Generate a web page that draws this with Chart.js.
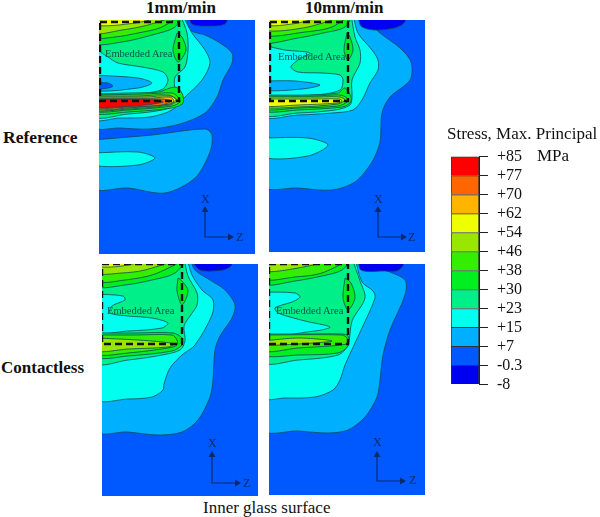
<!DOCTYPE html>
<html>
<head>
<meta charset="utf-8">
<title>Stress, Max. Principal</title>
<script src="https://cdn.jsdelivr.net/npm/chart.js@4/dist/chart.umd.min.js"></script>
<style>
  html, body { margin: 0; padding: 0; background: #fff; }
  #page { position: relative; width: 600px; height: 517px; overflow: hidden; font-family: "Liberation Serif", serif; color: #111; }
  canvas { position: absolute; display: block; }
  .t { position: absolute; white-space: nowrap; line-height: 1; }
  .b { font-weight: bold; font-size: 17px; }
  .n { font-size: 17px; }
  .e { font-size: 10.5px; color: #07564f; }
  .a { font-size: 12px; color: #0b2a68; }
</style>
</head>
<body>
<div id="page">
  <canvas id="refSlow" style="left:99px;top:20px"></canvas>
  <canvas id="refFast" style="left:269px;top:20px"></canvas>
  <canvas id="conSlow" style="left:102px;top:264px"></canvas>
  <canvas id="conFast" style="left:269px;top:264px"></canvas>
  <canvas id="colorBar" style="left:445px;top:138px"></canvas>

  <div class="t b" style="left:146px;top:-1px">1mm/min</div>
  <div class="t b" style="left:305px;top:-1px">10mm/min</div>
  <div class="t b" style="left:3px;top:129px;font-size:17.5px">Reference</div>
  <div class="t b" style="left:1px;top:359px">Contactless</div>
  <div class="t n" style="left:203px;top:499px">Inner glass surface</div>
  <div class="t n" style="left:447px;top:125px">Stress, Max. Principal</div>
  <div class="t n" style="left:537px;top:147px">MPa</div>

  <div class="t e" style="left:105px;top:49px">Embedded Area</div>
  <div class="t e" style="left:278px;top:52px">Embedded Area</div>
  <div class="t e" style="left:107px;top:306px">Embedded Area</div>
  <div class="t e" style="left:276px;top:306px">Embedded Area</div>

  <div class="t a" style="left:201px;top:193px">X</div>
  <div class="t a" style="left:236px;top:231px">Z</div>
  <div class="t a" style="left:374px;top:193px">X</div>
  <div class="t a" style="left:408px;top:231px">Z</div>
  <div class="t a" style="left:208px;top:437px">X</div>
  <div class="t a" style="left:243px;top:477px">Z</div>
  <div class="t a" style="left:373px;top:436px">X</div>
  <div class="t a" style="left:409px;top:474px">Z</div>
</div>

<script>
// colour bar, bottom band first
var bandEdges = [-8, -0.3, 7, 15, 23, 30, 38, 46, 54, 62, 70, 77, 85];
var bandColors = ['#0000f0', '#0058ff', '#00b0ff', '#00ffee', '#00ef88', '#00ee22', '#33ee00', '#99e600', '#eeff00', '#ffb400', '#ff6600', '#ff0000'];
var tickLabels = ['-8', '-0.3', '+7', '+15', '+23', '+30', '+38', '+46', '+54', '+62', '+70', '+77', '+85'];

// contour regions: [lower stress level, [z, depth] outline], painted in order
var refSlow = [
  [-0.3, [[0, 0], [160, 0], [160, 240], [0, 240]]],
  [7, [[87, 0], [91, 10], [106, 15], [121, 23], [133, 33], [133, 43], [124, 60], [118, 77], [106, 93], [81, 104], [51, 109], [21, 108], [0, 106], [0, 0]]],
  [7, [[0, 120], [53, 115], [106, 109], [113, 115], [111, 132], [96, 158], [66, 173], [29, 168], [0, 168]]],
  [15, [[0, 133], [39, 132], [56, 138], [39, 145], [0, 145]]],
  [15, [[83, 0], [93, 13], [106, 30], [111, 43], [103, 60], [86, 77], [73, 90], [51, 97], [21, 98], [0, 98], [0, 0]]],
  [23, [[81, 0], [88, 13], [89, 30], [86, 47], [76, 57], [76, 70], [79, 83], [63, 90], [29, 94], [0, 95], [0, 0]]],
  [30, [[0, 0], [82, 0], [76, 7], [53, 15], [23, 22], [0, 23]]],
  [38, [[0, 0], [79, 0], [63, 7], [39, 13], [16, 17], [0, 17]]],
  [46, [[0, 0], [78, 0], [49, 5], [23, 10], [0, 13]]],
  [54, [[0, 0], [69, 0], [36, 3], [0, 5]]],
  [30, [[78, 13], [74, 30], [79, 42], [87, 30], [83, 17]]],
  [15, [[0, 27], [9, 37], [19, 43], [43, 47], [64, 52], [69, 60], [64, 69], [46, 73], [0, 74]]],
  [7, [[0, 55], [39, 58], [53, 63], [39, 68], [0, 70]]],
  [-0.3, [[0, 63], [9, 63], [14, 66], [9, 68], [0, 69]]],
  [30, [[0, 74], [29, 73], [59, 72], [76, 67], [83, 73], [84, 83], [73, 88], [29, 92], [0, 93]]],
  [38, [[0, 75], [46, 74], [73, 73], [79, 77], [81, 82], [73, 86], [29, 90], [0, 91]]],
  [46, [[0, 76], [39, 76], [69, 75], [78, 80], [71, 85], [29, 89], [0, 90]]],
  [54, [[0, 77], [46, 77], [71, 76], [77, 80], [71, 84], [29, 88], [0, 90]]],
  [62, [[0, 78], [53, 78], [71, 77], [75, 81], [70, 84], [39, 87], [0, 89]]],
  [70, [[0, 79], [63, 79], [72, 81], [63, 85], [29, 87], [0, 88]]],
  [77, [[0, 79], [59, 80], [64, 82], [46, 85], [0, 87]]],
  [-8, [[89, 0], [93, 4], [106, 6], [126, 4], [128, 0]]]
];

var refFast = [
  [-0.3, [[0, 0], [160, 0], [160, 240], [0, 240]]],
  [7, [[91, 0], [111, 13], [131, 28], [142, 42], [141, 60], [121, 77], [113, 93], [111, 122], [103, 142], [86, 162], [63, 170], [29, 168], [0, 165], [0, 0]]],
  [15, [[0, 118], [39, 118], [59, 125], [39, 136], [0, 137]]],
  [15, [[84, 0], [89, 13], [103, 30], [109, 40], [109, 50], [101, 63], [93, 80], [84, 90], [63, 93], [29, 95], [0, 95], [0, 0]]],
  [23, [[82, 0], [86, 17], [91, 30], [91, 43], [83, 60], [83, 77], [81, 85], [66, 90], [29, 93], [0, 93], [0, 0]]],
  [30, [[0, 0], [81, 0], [76, 7], [54, 13], [29, 18], [0, 22]]],
  [38, [[0, 0], [79, 0], [63, 7], [36, 12], [0, 15]]],
  [46, [[0, 0], [74, 0], [39, 7], [0, 10]]],
  [54, [[0, 0], [56, 0], [29, 3], [0, 5]]],
  [30, [[78, 13], [75, 30], [79, 40], [84, 30], [81, 17]]],
  [15, [[0, 25], [16, 30], [41, 33], [29, 40], [22, 47], [29, 52], [53, 53], [71, 55], [74, 60], [71, 70], [46, 75], [0, 75]]],
  [7, [[0, 61], [26, 61], [51, 65], [33, 69], [0, 70]]],
  [30, [[0, 75], [36, 75], [69, 73], [76, 68], [82, 77], [81, 83], [73, 87], [29, 90], [0, 91]]],
  [38, [[0, 76], [46, 76], [71, 75], [78, 78], [78, 82], [69, 86], [29, 88], [0, 89]]],
  [46, [[0, 77], [49, 77], [71, 77], [76, 80], [69, 84], [29, 87], [0, 87]]],
  [54, [[0, 79], [46, 79], [70, 79], [73, 81], [68, 83], [29, 85], [0, 86]]],
  [-8, [[89, 0], [92, 6], [105, 10], [125, 8], [135, 3], [137, 0]]]
];

var conSlow = [
  [-0.3, [[0, 0], [160, 0], [160, 240], [0, 240]]],
  [7, [[88, 0], [93, 6], [108, 16], [123, 26], [133, 41], [130, 54], [118, 72], [113, 86], [111, 116], [108, 133], [96, 156], [80, 168], [56, 171], [26, 168], [0, 166], [0, 0]]],
  [15, [[85, 0], [90, 11], [100, 26], [111, 36], [110, 51], [93, 81], [80, 91], [68, 104], [62, 120], [61, 126], [50, 133], [26, 135], [0, 134], [0, 0]]],
  [23, [[82, 0], [86, 12], [95, 29], [95, 41], [88, 52], [82, 62], [83, 77], [78, 86], [60, 91], [26, 96], [0, 98], [0, 0]]],
  [30, [[0, 0], [83, 0], [73, 9], [50, 16], [23, 21], [0, 22]]],
  [38, [[0, 0], [81, 0], [53, 10], [23, 16], [0, 17]]],
  [46, [[0, 0], [76, 0], [43, 6], [20, 9], [0, 9]]],
  [54, [[0, 0], [50, 0], [20, 2], [0, 2]]],
  [30, [[76, 14], [75, 27], [80, 41], [86, 27], [80, 17]]],
  [15, [[0, 30], [21, 32], [23, 36], [10, 42], [8, 49], [26, 52], [50, 54], [66, 59], [60, 64], [26, 67], [0, 67]]],
  [30, [[0, 69], [33, 69], [71, 69], [80, 74], [80, 81], [70, 87], [26, 92], [0, 93]]],
  [38, [[0, 71], [33, 71], [70, 71], [75, 76], [75, 81], [66, 84], [26, 89], [0, 90]]],
  [46, [[0, 74], [36, 76], [60, 78], [72, 80], [66, 83], [26, 85], [0, 87]]],
  [-8, [[88, 0], [98, 6], [121, 6], [129, 2], [130, 0]]]
];

var conFast = [
  [-0.3, [[0, 0], [160, 0], [160, 240], [0, 240]]],
  [7, [[91, 0], [116, 6], [136, 16], [136, 31], [121, 66], [114, 91], [111, 116], [108, 133], [96, 153], [79, 166], [59, 169], [29, 167], [0, 165], [0, 0]]],
  [15, [[86, 0], [93, 18], [104, 27], [106, 34], [93, 64], [76, 101], [71, 116], [64, 126], [46, 133], [16, 134], [0, 133], [0, 0]]],
  [23, [[83, 0], [91, 17], [96, 34], [83, 57], [79, 81], [69, 91], [29, 96], [0, 97], [0, 0]]],
  [30, [[0, 0], [81, 0], [73, 6], [53, 12], [26, 17], [0, 20]]],
  [38, [[0, 0], [79, 0], [53, 9], [26, 13], [0, 15]]],
  [46, [[0, 0], [69, 0], [29, 4], [0, 7]]],
  [30, [[76, 14], [74, 34], [79, 46], [86, 34], [82, 19]]],
  [15, [[0, 28], [26, 29], [31, 33], [23, 38], [13, 41], [6, 44], [9, 49], [36, 57], [61, 63], [46, 67], [0, 69]]],
  [30, [[0, 70], [36, 70], [73, 70], [79, 72], [79, 82], [69, 89], [29, 91], [0, 91]]],
  [38, [[0, 71], [73, 71], [78, 74], [78, 80], [29, 84], [0, 87]]],
  [46, [[0, 77], [29, 74], [63, 77], [29, 80], [0, 81]]],
  [-8, [[89, 0], [92, 6], [115, 7], [130, 6], [136, 0]]]
];

// embedded area corners [left, top, right, bottom]
var refSlowBox = [1, 2, 80, 81];
var refFastBox = [1, 2, 79, 81];
var conSlowBox = [0, 0, 80, 80];
var conFastBox = [0, 0, 79, 80];

// X-Z triad [origin z, origin depth, x head depth, z head]
var refSlowAxes = [106, 217, 190, 131];
var refFastAxes = [109, 217, 190, 134];
var conSlowAxes = [110, 219, 191, 135];
var conFastAxes = [108, 217, 191, 133];

function bandColor(level) {
  return bandColors[bandEdges.indexOf(level)];
}

// points on the panel edge go a little outside so the smoothing stays off the clip line
function outline(pts) {
  var out = pts.map(function (p) {
    return { x: p[0] === 0 ? -6 : p[0], y: p[1] === 0 ? -6 : p[1] };
  });
  out.push(out[0]);
  return out;
}

function drawPanel(id, height, contours, box, axes) {
  var sets = contours.map(function (c, i) {
    return {
      data: outline(c[1]),
      showLine: true,
      fill: 'shape',
      backgroundColor: bandColor(c[0]),
      borderColor: '#0b4a58',
      borderWidth: i === 0 ? 0 : 0.8,
      tension: 0.3,
      pointRadius: 0,
      order: 100 - i
    };
  });
  sets.push({
    data: [{ x: box[0], y: box[1] }, { x: box[2], y: box[1] }, { x: box[2], y: box[3] }, { x: box[0], y: box[3] }, { x: box[0], y: box[1] }],
    showLine: true, borderColor: '#111', borderWidth: 2.4, borderDash: [7, 4], pointRadius: 0, order: 5
  });
  sets.push({
    data: [{ x: axes[0], y: axes[2] }, { x: axes[0], y: axes[1] }, { x: axes[3], y: axes[1] }],
    showLine: true, borderColor: '#0b2a68', borderWidth: 1.2, pointRadius: 0, order: 4
  });
  sets.push({
    data: [{ x: axes[0], y: axes[2] }],
    pointStyle: 'triangle', pointRadius: 4, rotation: 0, backgroundColor: '#0b2a68', borderWidth: 0, order: 3
  });
  sets.push({
    data: [{ x: axes[3], y: axes[1] }],
    pointStyle: 'triangle', pointRadius: 4, rotation: 90, backgroundColor: '#0b2a68', borderWidth: 0, order: 2
  });

  var el = document.getElementById(id);
  el.width = 156;
  el.height = height;
  new Chart(el.getContext('2d'), {
    type: 'scatter',
    data: { datasets: sets },
    options: {
      responsive: false, animation: false,
      layout: { padding: 0, autoPadding: false },
      plugins: { legend: { display: false }, tooltip: { enabled: false } },
      scales: {
        x: { display: false, min: 0, max: 156 },
        y: { display: false, min: 0, max: height, reverse: true }
      }
    }
  });
}

drawPanel('refSlow', 234, refSlow, refSlowBox, refSlowAxes);
drawPanel('refFast', 232, refFast, refFastBox, refFastAxes);
drawPanel('conSlow', 232, conSlow, conSlowBox, conSlowAxes);
drawPanel('conFast', 231, conFast, conFastBox, conFastAxes);

// Color bar
var barEl = document.getElementById('colorBar');
barEl.width = 110;
barEl.height = 265;
new Chart(barEl.getContext('2d'), {
  type: 'bar',
  data: {
    labels: ['Stress'],
    datasets: bandColors.map(function (c) {
      return { data: [1], backgroundColor: c, borderColor: '#333', borderWidth: 1, barPercentage: 1, categoryPercentage: 1 };
    })
  },
  options: {
    responsive: false, animation: false,
    layout: { padding: { left: 6, top: 2, bottom: 2 }, autoPadding: false },
    plugins: { legend: { display: false }, tooltip: { enabled: false } },
    scales: {
      x: { display: false, stacked: true },
      y: {
        stacked: true, position: 'right', min: 0, max: 12,
        afterFit: function (s) { s.width = 76; },
        grid: { drawOnChartArea: false, tickLength: 9, color: '#222' },
        border: { color: '#222' },
        ticks: {
          stepSize: 1, autoSkip: false, padding: 9, color: '#111',
          font: { family: 'Liberation Serif', size: 16 },
          callback: function (v) { return tickLabels[v]; }
        }
      }
    }
  }
});
</script>
</body>
</html>
